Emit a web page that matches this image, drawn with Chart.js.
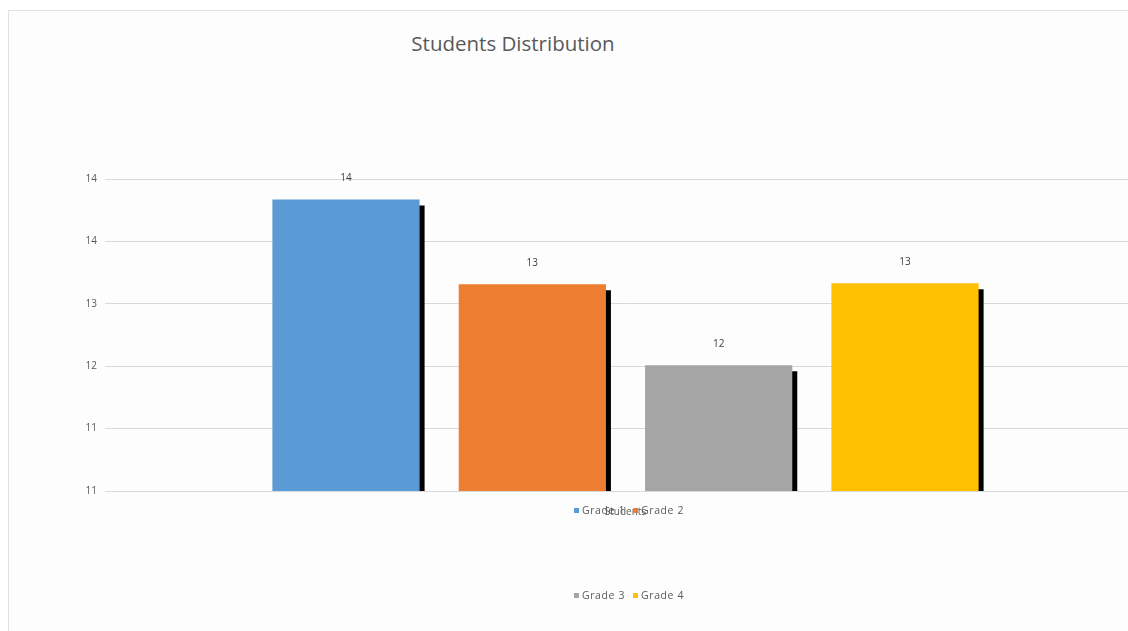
<!DOCTYPE html>
<html>
<head>
<meta charset="utf-8">
<script src="https://cdn.jsdelivr.net/npm/chart.js@4.4.0/dist/chart.umd.min.js"></script>
<style>
    html, body { margin: 0; padding: 0; background: #ffffff; overflow: hidden; width: 1128px; height: 631px; }
    #frame { position: absolute; left: 8px; top: 10px; width: 1130px; height: 630px; background: #fdfdfd;
             border-left: 1px solid #e3e3e3; border-top: 1px solid #e3e3e3; }
    #wrap { position: absolute; left: 0; top: 0; width: 1160px; height: 631px; }
    #titulo { position: absolute; left: 313px; width: 400px; top: 29px; text-align: center;
              font-family: 'Open Sans', sans-serif; font-size: 20.5px; color: #595959; }
    .linha { position: absolute; left: 429px; width: 400px; text-align: center; letter-spacing: 0.6px;
             font-family: 'Open Sans', sans-serif; font-size: 10.5px; color: #595959; white-space: nowrap; }
    .item { display: inline-block; margin: 0 4px; }
    .marca { display: inline-block; width: 5px; height: 5px; margin-right: 3px; vertical-align: 1px; }
</style>
</head>
<body>
<div id="frame"></div>
<div id="titulo">Students Distribution</div>
<div id="wrap"><canvas id="grafico" width="1160" height="631"></canvas></div>
<div class="linha" id="legenda1" style="top:503px"></div>
<div class="linha" id="legenda2" style="top:588px"></div>
<script>
// dados do gráfico
const categorias = ['Students'];
const series = ['Grade 1', 'Grade 2', 'Grade 3', 'Grade 4'];
const valores = [13.97, 13.02, 12.11, 13.03];
const cores = ['#5B9BD5', '#ED7D31', '#A5A5A5', '#FFC000'];
const yTicks = [10.7, 11.4, 12.1, 12.8, 13.5, 14.2];
const linhasLegenda = [[0, 1], [2, 3]];

// legenda em duas linhas, como no original
linhasLegenda.forEach(function(indices, n) {
    const el = document.getElementById('legenda' + (n + 1));
    el.innerHTML = indices.map(function(i) {
        return '<span class="item"><span class="marca" style="background:' + cores[i] + '"></span>' + series[i] + '</span>';
    }).join('');
});

// sombra preta nas barras + rótulos de valor
const pluginBarras = {
    id: 'barras',
    beforeDatasetsDraw: function(chart) {
        const ctx = chart.ctx;
        ctx.save();
        ctx.shadowColor = '#000000';
        ctx.shadowOffsetX = 5;
        ctx.shadowOffsetY = 6;
        ctx.shadowBlur = 0;
    },
    afterDatasetsDraw: function(chart) {
        const ctx = chart.ctx;
        ctx.restore();
        ctx.save();
        ctx.font = '10px "Open Sans", sans-serif';
        ctx.fillStyle = '#404040';
        ctx.textAlign = 'center';
        ctx.textBaseline = 'middle';
        chart.data.datasets.forEach(function(ds, i) {
            chart.getDatasetMeta(i).data.forEach(function(bar, j) {
                ctx.fillText(String(Math.round(ds.data[j])), bar.x, bar.y - 21);
            });
        });
        ctx.restore();
    }
};

const ctx = document.getElementById('grafico').getContext('2d');

new Chart(ctx, {
    type: 'bar',
    data: {
        labels: categorias,
        datasets: series.map(function(nome, i) {
            return {
                label: nome,
                data: [valores[i]],
                backgroundColor: cores[i],
                borderWidth: 0,
                categoryPercentage: 0.716,
                barPercentage: 0.79,
                clip: 0
            };
        })
    },
    options: {
        responsive: false,
        animation: false,
        layout: { padding: { left: 0, right: 14, top: 179, bottom: 0 } },
        plugins: {
            legend: { display: false },
            title: { display: false },
            tooltip: { enabled: false }
        },
        scales: {
            x: {
                grid: { display: false },
                border: { display: false },
                ticks: {
                    padding: 7,
                    color: '#595959',
                    font: { family: 'Open Sans', size: 10 }
                },
                afterFit: function(scale) { scale.height = 140; }
            },
            y: {
                min: 10.7,
                max: 14.2,
                afterBuildTicks: function(scale) {
                    scale.ticks = yTicks.map(function(v) { return { value: v }; });
                },
                grid: { color: '#d9d9d9', drawTicks: false },
                border: { display: false },
                ticks: {
                    padding: 8,
                    color: '#595959',
                    font: { family: 'Open Sans', size: 10 },
                    callback: function(value) { return Math.round(value); }
                },
                afterFit: function(scale) { scale.width = 105; }
            }
        }
    },
    plugins: [pluginBarras]
});
</script>
</body>
</html>
